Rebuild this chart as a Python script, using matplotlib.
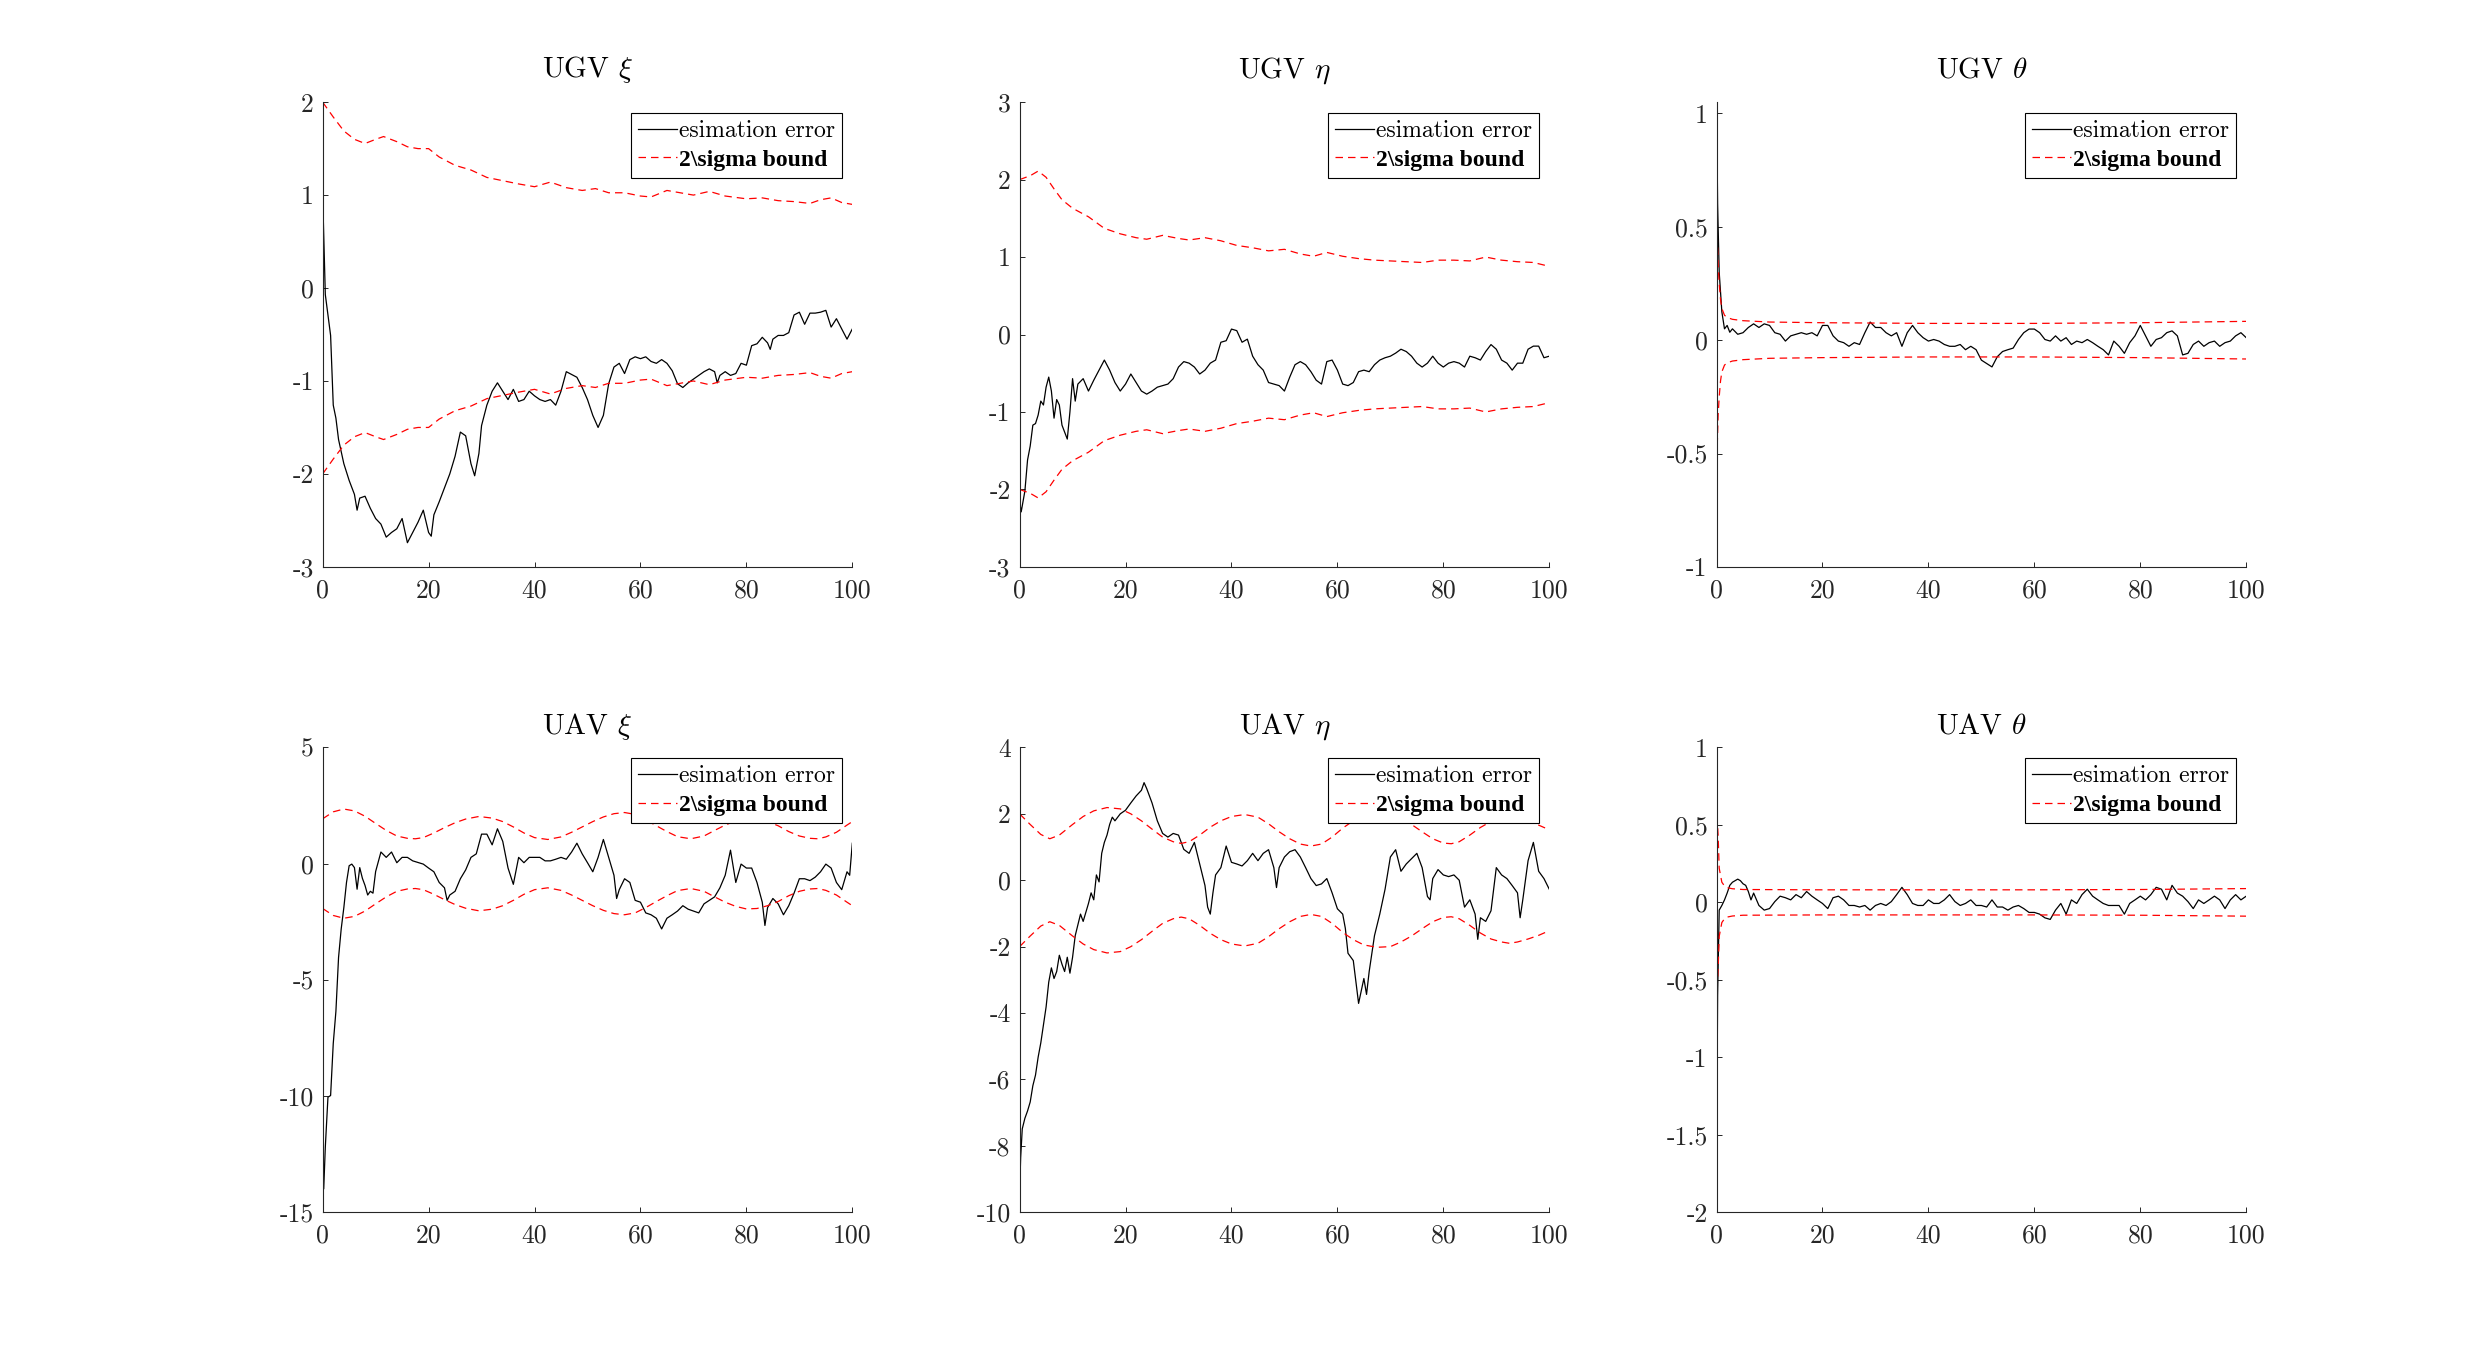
import numpy as np
import matplotlib.pyplot as plt
from matplotlib.ticker import FuncFormatter

plt.rcParams.update({
    'font.family': 'cmr10',
    'mathtext.fontset': 'cm',
    'axes.unicode_minus': False,
    'axes.linewidth': 0.8,
    'axes.edgecolor': '#262626',
    'xtick.color': '#262626',
    'ytick.color': '#262626',
    'xtick.labelsize': 18.5,
    'ytick.labelsize': 18.5,
    'xtick.direction': 'in',
    'ytick.direction': 'in',
    'xtick.major.size': 3.6,
    'ytick.major.size': 3.6,
    'xtick.major.width': 0.7,
    'ytick.major.width': 0.7,
    'xtick.major.pad': 8.5,
    'ytick.major.pad': 6.5,
})

# ---- data: (time, value) ----
ugv_xi_err = [
    (0, 1.0), (0.5, -0.07), (1, -0.29), (1.5, -0.51), (2, -1.26), (2.5, -1.4), (3, -1.63),
    (4, -1.89), (5, -2.07), (6, -2.22), (6.5, -2.39), (7, -2.26), (8, -2.24), (9, -2.37),
    (10, -2.48), (11, -2.54), (12, -2.68), (13, -2.63), (14, -2.59), (15, -2.48), (16, -2.74),
    (17, -2.63), (18, -2.52), (19, -2.39), (20, -2.63), (20.5, -2.67), (21, -2.44), (22, -2.30),
    (23, -2.15), (24, -2.0), (25, -1.81), (26, -1.55), (27, -1.59), (28, -1.89), (28.7, -2.02),
    (29.5, -1.78), (30, -1.48), (31, -1.26), (32, -1.11), (33, -1.02), (34, -1.11), (35, -1.20),
    (36, -1.09), (37, -1.22), (38, -1.20), (39, -1.11), (40, -1.16), (41, -1.20), (42, -1.22),
    (43, -1.20), (44, -1.26), (45, -1.11), (46, -0.90), (47, -0.93), (48, -0.96), (49, -1.07),
    (50, -1.20), (51, -1.37), (52, -1.50), (53, -1.37), (54, -1.03), (55, -0.85), (56, -0.81),
    (57, -0.92), (58, -0.77), (59, -0.74), (60, -0.76), (61, -0.74), (62, -0.79), (63, -0.81),
    (64, -0.77), (65, -0.81), (66, -0.89), (67, -1.03), (68, -1.07), (69, -1.02), (70, -0.98),
    (71, -0.94), (72, -0.90), (73, -0.87), (74, -0.90), (74.5, -1.02), (75, -0.94), (76, -0.90),
    (77, -0.94), (78, -0.92), (79, -0.81), (80, -0.83), (81, -0.62), (82, -0.60), (83, -0.53),
    (84, -0.59), (84.5, -0.66), (85, -0.55), (86, -0.51), (87, -0.51), (88, -0.48), (89, -0.29),
    (90, -0.26), (91, -0.39), (92, -0.27), (93, -0.27), (94, -0.26), (95, -0.24), (96, -0.42),
    (97, -0.33), (98, -0.44), (99, -0.55), (100, -0.44)]
ugv_xi_bound = [
    (0, 2.0), (2, 1.84), (4, 1.69), (6, 1.60), (8, 1.555), (10, 1.60), (11.5, 1.63), (14, 1.575),
    (16, 1.52), (18, 1.50), (20, 1.50), (22, 1.41), (25, 1.32), (28, 1.27), (31, 1.19),
    (34, 1.155), (37, 1.12), (40, 1.09), (43, 1.14), (46, 1.08), (49, 1.05), (51.5, 1.07),
    (54, 1.025), (57, 1.025), (60, 0.99), (62, 0.98), (65, 1.05), (68, 1.02), (70, 1.0),
    (73, 1.04), (76, 0.99), (80, 0.96), (83, 0.97), (86, 0.94), (89, 0.93), (92, 0.91),
    (94, 0.95), (96, 0.97), (98, 0.92), (100, 0.90)]

ugv_eta_err = [
    (0, -2.15), (0.3, -2.29), (1, -2.02), (1.5, -1.62), (2, -1.44), (2.5, -1.17), (3, -1.15),
    (3.5, -1.04), (4, -0.86), (4.5, -0.91), (5, -0.68), (5.5, -0.55), (6, -0.73), (6.5, -1.08),
    (7, -0.84), (7.5, -0.91), (8, -1.17), (8.5, -1.26), (9, -1.35), (9.5, -1.0), (10, -0.57),
    (10.5, -0.86), (11, -0.64), (12, -0.57), (13, -0.73), (14, -0.59), (15, -0.46), (16, -0.33),
    (17, -0.46), (18, -0.62), (19, -0.73), (20, -0.64), (21, -0.51), (22, -0.62), (23, -0.73),
    (24, -0.77), (25, -0.73), (26, -0.68), (27, -0.66), (28, -0.64), (29, -0.57), (30, -0.42),
    (31, -0.35), (32, -0.37), (33, -0.42), (34, -0.51), (35, -0.46), (36, -0.37), (37, -0.33),
    (38, -0.10), (39, -0.08), (40, 0.07), (41, 0.05), (42, -0.10), (43, -0.06), (44, -0.28),
    (45, -0.39), (46, -0.46), (47, -0.62), (48, -0.64), (49, -0.66), (50, -0.73), (51, -0.55),
    (52, -0.39), (53, -0.35), (54, -0.39), (55, -0.48), (56, -0.59), (57, -0.64), (58, -0.35),
    (59, -0.33), (60, -0.46), (61, -0.64), (62, -0.66), (63, -0.62), (64, -0.48), (65, -0.46),
    (66, -0.48), (67, -0.39), (68, -0.33), (69, -0.30), (70, -0.28), (71, -0.24), (72, -0.19),
    (73, -0.22), (74, -0.28), (75, -0.37), (76, -0.42), (77, -0.37), (78, -0.28), (79, -0.37),
    (80, -0.42), (81, -0.37), (82, -0.35), (83, -0.37), (84, -0.42), (85, -0.28), (86, -0.30),
    (87, -0.33), (88, -0.22), (89, -0.13), (90, -0.19), (91, -0.33), (92, -0.37), (93, -0.46),
    (94, -0.37), (95, -0.37), (96, -0.19), (97, -0.15), (98, -0.15), (99, -0.30), (100, -0.28)]
ugv_eta_bound = [
    (0, 2.0), (2, 2.05), (3.5, 2.11), (5, 2.03), (6.5, 1.88), (8, 1.74), (10, 1.63), (13, 1.52),
    (16, 1.37), (19, 1.30), (22, 1.25), (24, 1.23), (27, 1.28), (30, 1.24), (32, 1.22),
    (35, 1.25), (38, 1.21), (41, 1.15), (44, 1.12), (47, 1.08), (50, 1.10), (53, 1.04),
    (55.5, 1.01), (58, 1.06), (61, 1.01), (64, 0.98), (67, 0.96), (70, 0.95), (73, 0.94),
    (76, 0.93), (79, 0.96), (82, 0.96), (85, 0.95), (88, 1.0), (91, 0.96), (94, 0.94),
    (97, 0.93), (100, 0.88)]

ugv_theta_err = [
    (0, 1.05), (0.2, 0.6), (0.5, 0.3), (1, 0.125), (1.5, 0.05), (2, 0.065), (2.5, 0.035),
    (3, 0.05), (4, 0.026), (5, 0.033), (6, 0.056), (7, 0.072), (8, 0.056), (9, 0.072),
    (10, 0.065), (11, 0.033), (12, 0.026), (13, -0.004), (14, 0.019), (15, 0.026), (16, 0.033),
    (17, 0.026), (18, 0.033), (19, 0.019), (20, 0.065), (21, 0.065), (22, 0.019), (23, -0.004),
    (24, -0.011), (25, -0.027), (26, -0.011), (27, -0.019), (28, 0.033), (29, 0.08), (30, 0.056),
    (31, 0.056), (32, 0.033), (33, 0.019), (34, 0.033), (35, -0.027), (36, 0.033), (37, 0.065),
    (38, 0.033), (39, 0.011), (40, -0.004), (41, 0.003), (42, -0.004), (43, -0.019),
    (44, -0.027), (45, -0.027), (46, -0.019), (47, -0.042), (48, -0.027), (49, -0.042),
    (50, -0.088), (51, -0.103), (52, -0.118), (53, -0.073), (54, -0.050), (55, -0.042),
    (56, -0.035), (57, 0.003), (58, 0.033), (59, 0.049), (60, 0.049), (61, 0.033), (62, 0.003),
    (63, -0.004), (64, 0.019), (65, -0.004), (66, 0.011), (67, -0.019), (68, -0.004),
    (69, -0.011), (70, 0.003), (71, -0.011), (72, -0.027), (73, -0.042), (74, -0.065),
    (75, -0.004), (76, -0.027), (77, -0.058), (78, -0.011), (79, 0.019), (80, 0.065),
    (81, 0.019), (82, -0.027), (83, 0.003), (84, 0.011), (85, 0.033), (86, 0.041), (87, 0.019),
    (88, -0.065), (89, -0.058), (90, -0.019), (91, -0.004), (92, -0.027), (93, -0.011),
    (94, -0.004), (95, -0.027), (96, -0.011), (97, -0.004), (98, 0.019), (99, 0.033),
    (100, 0.011)]
ugv_theta_bound = [
    (0, 0.63), (0.15, 0.45), (0.3, 0.33), (0.5, 0.25), (0.75, 0.18), (1, 0.14), (1.5, 0.11),
    (2, 0.10), (3, 0.092), (5, 0.086), (10, 0.080), (20, 0.077), (40, 0.074), (60, 0.074),
    (80, 0.077), (100, 0.083)]

uav_xi_err = [
    (0, -13.0), (0.2, -14.0), (0.5, -12.2), (1, -10.05), (1.5, -9.98), (2, -7.74), (2.5, -6.36),
    (3, -4.04), (3.5, -2.81), (4, -1.89), (4.5, -0.81), (5, -0.09), (5.5, -0.02), (6, -0.17),
    (6.5, -1.1), (7, -0.17), (7.5, -0.63), (8, -0.94), (8.5, -1.35), (9, -1.19), (9.5, -1.27),
    (10, -0.34), (11, 0.5), (12, 0.27), (13, 0.5), (14, 0.04), (15, 0.27), (16, 0.27),
    (17, 0.12), (18, 0.05), (19, -0.02), (20, -0.19), (21, -0.35), (22, -0.81), (23, -1.04),
    (23.5, -1.58), (24, -1.35), (25, -1.19), (26, -0.65), (27, -0.27), (28, 0.27), (29, 0.42),
    (30, 1.27), (31, 1.27), (32, 0.81), (33, 1.5), (34, 0.96), (35, -0.19), (36, -0.89),
    (37, 0.27), (38, 0.04), (39, 0.27), (40, 0.27), (41, 0.27), (42, 0.12), (43, 0.12),
    (44, 0.19), (45, 0.27), (46, 0.19), (47, 0.5), (48, 0.88), (49, 0.42), (50, 0.04),
    (51, -0.35), (52, 0.27), (53, 1.04), (54, 0.27), (55, -0.5), (55.5, -1.5), (56, -1.12),
    (57, -0.65), (58, -0.81), (59, -1.58), (60, -1.66), (61, -2.12), (62, -2.2), (63, -2.35),
    (64, -2.81), (65, -2.35), (66, -2.2), (67, -2.04), (68, -1.81), (69, -1.96), (70, -2.04),
    (71, -2.12), (72, -1.73), (73, -1.58), (74, -1.43), (75, -1.04), (76, -0.5), (77, 0.58),
    (78, -0.81), (79, -0.02), (80, -0.19), (81, -0.19), (82, -0.81), (83, -1.66), (83.5, -2.66),
    (84, -1.89), (85, -1.5), (86, -1.73), (87, -2.2), (88, -1.81), (89, -1.27), (90, -0.65),
    (91, -0.65), (92, -0.73), (93, -0.58), (94, -0.35), (95, -0.02), (96, -0.19), (97, -0.81),
    (98, -1.12), (99, -0.35), (99.5, -0.5), (100, 0.88)]
uav_xi_bound = [
    (0, 1.93), (2, 2.23), (4, 2.35), (6, 2.27), (8, 2.04), (10, 1.73), (12, 1.43), (14, 1.19),
    (16, 1.09), (17.5, 1.07), (19, 1.12), (21, 1.32), (23, 1.55), (25, 1.76), (27, 1.92),
    (29.5, 2.03), (32, 1.96), (34, 1.81), (36, 1.58), (38, 1.32), (40, 1.12), (42.5, 1.04),
    (45, 1.15), (47, 1.35), (49, 1.58), (51, 1.81), (53, 2.01), (55, 2.15), (57, 2.20),
    (59, 2.12), (61, 1.89), (63, 1.63), (65, 1.38), (67, 1.16), (69.5, 1.07), (72, 1.19),
    (74, 1.43), (76, 1.66), (78, 1.84), (80, 1.95), (82, 1.93), (84, 1.81), (86, 1.63),
    (88, 1.38), (90, 1.19), (92, 1.09), (93.5, 1.07), (95, 1.15), (97, 1.35), (99, 1.66),
    (100, 1.81)]

uav_eta_err = [
    (0, -9.38), (0.2, -8.35), (0.5, -7.49), (1, -7.17), (1.5, -6.95), (2, -6.68), (2.5, -6.19),
    (3, -5.87), (3.5, -5.33), (4, -4.9), (4.5, -4.36), (5, -3.82), (5.5, -3.07), (6, -2.64),
    (6.5, -2.96), (7, -2.75), (7.5, -2.26), (8, -2.53), (8.5, -2.75), (9, -2.32), (9.5, -2.80),
    (10, -2.32), (10.5, -1.67), (11, -1.35), (11.5, -1.02), (12, -1.24), (13, -0.70),
    (13.5, -0.38), (14, -0.59), (14.5, 0.16), (15, -0.05), (15.5, 0.81), (16, 1.14),
    (16.5, 1.36), (17, 1.68), (17.5, 1.9), (18, 1.79), (19, 2.0), (20, 2.11), (21, 2.33),
    (22, 2.54), (23, 2.71), (23.5, 2.94), (24, 2.76), (25, 2.33), (26, 1.79), (27, 1.41),
    (28, 1.30), (29, 1.41), (30, 1.36), (31, 0.93), (32, 0.81), (33, 1.14), (34, 0.49),
    (35, -0.16), (35.5, -0.81), (36, -1.02), (36.5, -0.38), (37, 0.16), (38, 0.38), (39, 1.03),
    (40, 0.54), (41, 0.49), (42, 0.43), (43, 0.59), (44, 0.81), (45, 0.59), (46, 0.81),
    (47, 0.92), (48, 0.38), (48.5, -0.22), (49, 0.38), (50, 0.70), (51, 0.86), (52, 0.92),
    (53, 0.70), (54, 0.38), (55, 0.05), (56, -0.16), (57, -0.11), (58, 0.05), (59, -0.38),
    (60, -0.86), (61, -1.02), (61.5, -1.45), (62, -2.2), (63, -2.42), (63.5, -3.07), (64, -3.71),
    (65, -2.96), (65.5, -3.44), (66, -2.75), (67, -1.67), (68, -1.02), (69, -0.27), (70, 0.70),
    (71, 0.92), (72, 0.27), (73, 0.49), (74, 0.65), (75, 0.81), (76, 0.38), (77, -0.49),
    (77.5, -0.59), (78, 0.05), (79, 0.32), (80, 0.16), (81, 0.11), (82, 0.16), (83, 0.0),
    (84, -0.81), (85, -0.59), (86, -1.02), (86.5, -1.78), (87, -1.13), (88, -1.24), (89, -0.92),
    (90, 0.38), (91, 0.16), (92, 0.05), (93, -0.16), (94, -0.38), (94.5, -1.13), (95, -0.59),
    (96, 0.59), (97, 1.14), (98, 0.27), (99, 0.05), (100, -0.27)]
uav_eta_bound = [
    (0, 2.0), (2, 1.68), (4, 1.38), (5.7, 1.25), (7.5, 1.36), (10, 1.68), (12, 1.92), (14, 2.09),
    (16.5, 2.19), (19, 2.15), (21, 2.0), (23, 1.79), (25, 1.54), (27, 1.30), (29, 1.16),
    (30.5, 1.11), (32, 1.16), (34, 1.36), (36, 1.60), (38, 1.79), (40, 1.92), (42.5, 1.98),
    (45, 1.90), (47, 1.70), (49, 1.46), (51, 1.25), (53, 1.09), (55, 1.03), (57, 1.09),
    (59, 1.30), (61, 1.57), (63, 1.79), (65, 1.95), (67.5, 2.02), (70, 2.0), (72, 1.86),
    (74, 1.68), (76, 1.46), (78, 1.25), (80, 1.12), (81.5, 1.10), (83, 1.16), (85, 1.36),
    (87, 1.59), (89, 1.77), (91, 1.86), (92.5, 1.90), (94, 1.86), (96, 1.77), (98, 1.66),
    (100, 1.52)]

uav_theta_err = [
    (0, -1.74), (0.2, -0.6), (0.5, -0.05), (1, -0.02), (1.5, 0.016), (2, 0.06), (2.5, 0.11),
    (3, 0.13), (3.5, 0.14), (4, 0.15), (4.5, 0.14), (5, 0.12), (5.5, 0.11), (6, 0.07),
    (6.5, 0.016), (7, 0.06), (8, -0.02), (9, -0.05), (10, -0.04), (11, 0.005), (12, 0.04),
    (13, 0.03), (14, 0.016), (15, 0.05), (16, 0.03), (17, 0.07), (18, 0.04), (19, 0.016),
    (20, -0.007), (21, -0.04), (22, 0.03), (23, 0.04), (24, 0.016), (25, -0.02), (26, -0.02),
    (27, -0.03), (28, -0.02), (29, -0.05), (30, -0.02), (31, -0.007), (32, -0.02), (33, 0.005),
    (34, 0.05), (35, 0.097), (36, 0.05), (37, -0.007), (38, -0.02), (39, -0.02), (40, 0.016),
    (41, -0.007), (42, -0.007), (43, 0.016), (44, 0.05), (45, 0.005), (46, -0.02), (47, -0.007),
    (48, 0.016), (49, -0.02), (50, -0.02), (51, -0.03), (52, 0.016), (53, -0.03), (54, -0.03),
    (55, -0.05), (56, -0.03), (57, -0.02), (58, -0.04), (59, -0.065), (60, -0.065),
    (61, -0.076), (62, -0.1), (63, -0.11), (64, -0.05), (65, -0.007), (66, -0.076), (67, 0.016),
    (68, -0.007), (69, 0.05), (70, 0.085), (71, 0.04), (72, 0.016), (73, -0.007), (74, -0.02),
    (75, -0.02), (76, -0.02), (77, -0.076), (78, -0.007), (79, 0.016), (80, 0.04), (81, 0.016),
    (82, 0.05), (83, 0.097), (84, 0.085), (85, 0.016), (86, 0.11), (87, 0.06), (88, 0.04),
    (89, 0.005), (90, -0.04), (91, 0.016), (92, -0.007), (93, 0.016), (94, 0.04), (95, 0.016),
    (96, -0.04), (97, 0.016), (98, 0.05), (99, 0.016), (100, 0.04)]
uav_theta_bound = [
    (0, 0.64), (0.15, 0.52), (0.3, 0.43), (0.5, 0.22), (1, 0.13), (1.5, 0.106), (2, 0.095),
    (3, 0.088), (5, 0.083), (20, 0.081), (40, 0.081), (60, 0.081), (80, 0.083), (100, 0.089)]

titles = [r'UGV $\xi$', r'UGV $\eta$', r'UGV $\theta$',
          r'UAV $\xi$', r'UAV $\eta$', r'UAV $\theta$']
errors = [ugv_xi_err, ugv_eta_err, ugv_theta_err, uav_xi_err, uav_eta_err, uav_theta_err]
bounds = [ugv_xi_bound, ugv_eta_bound, ugv_theta_bound,
          uav_xi_bound, uav_eta_bound, uav_theta_bound]
ylims = [(-3, 2), (-3, 3), (-1, 1.05), (-15, 5), (-10, 4), (-2, 1)]
ytop_tick = [2, 3, 1, 5, 4, 1]
ysteps = [1, 1, 0.5, 5, 2, 0.5]

# matlab default subplot(2,3,k) positions
lefts = [0.13, 0.4108, 0.6916]
bottoms = [0.5838, 0.11]
w, h = 0.2134, 0.3412
title_pads = [18, 10]

fig = plt.figure(figsize=(24.82, 13.62), dpi=100)
for k in range(6):
    ax = fig.add_axes([lefts[k % 3], bottoms[k // 3], w, h])
    t, e = zip(*errors[k])
    tb, b = zip(*bounds[k])
    b = np.array(b)
    ax.plot(t, e, color='k', lw=0.9, label='esimation error')
    ax.plot(tb, b, color='r', ls=(0, (6, 4)), lw=0.9, label=r'2\sigma bound')
    ax.plot(tb, -b, color='r', ls=(0, (6, 4)), lw=0.9)

    ax.set_xlim(0, 100)
    ax.set_ylim(*ylims[k])
    ax.set_xticks(np.arange(0, 101, 20))
    ax.set_yticks(np.arange(ylims[k][0], ytop_tick[k] + 1e-6, ysteps[k]))
    ax.yaxis.set_major_formatter(FuncFormatter(lambda v, p: '%g' % round(v, 3)))
    ax.spines['top'].set_visible(False)
    ax.spines['right'].set_visible(False)
    ax.set_title(titles[k], fontsize=21, pad=title_pads[k // 3], color='k')

    leg = ax.legend(loc='upper right', fontsize=17, frameon=True, fancybox=False,
                    edgecolor='k', framealpha=1, borderaxespad=0.45, borderpad=0.3,
                    labelspacing=0.3, handlelength=1.65, handletextpad=0.05)
    leg.get_frame().set_linewidth(0.8)
    txt = leg.get_texts()[1]
    txt.set_fontfamily('Liberation Serif')
    txt.set_fontweight('bold')

fig.savefig('out.png', dpi=100, facecolor='white')
